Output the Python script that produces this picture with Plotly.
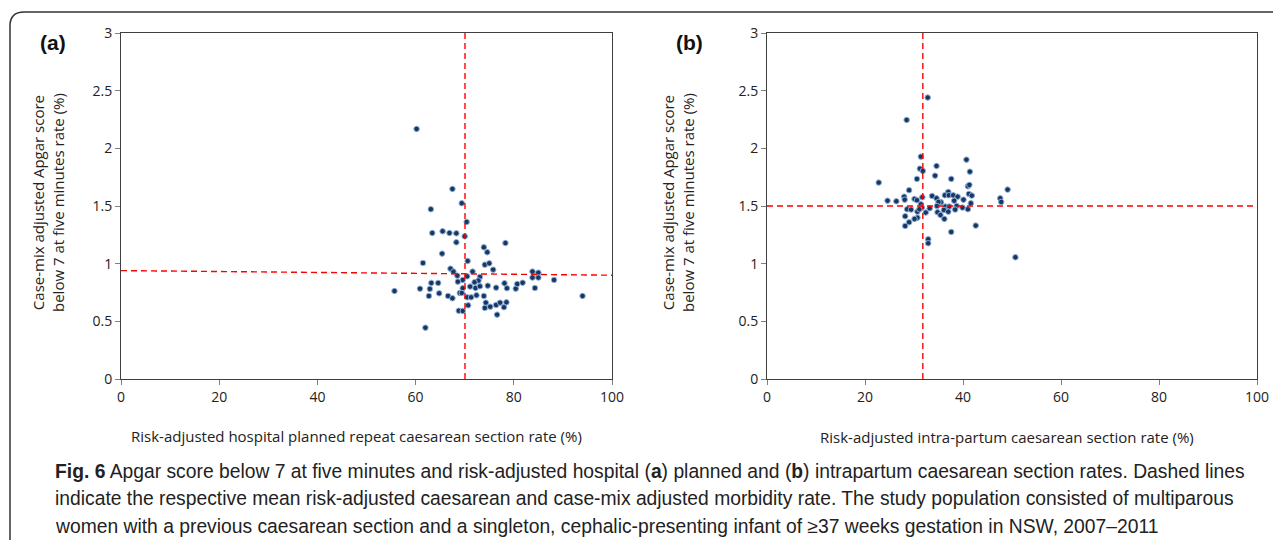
import plotly.graph_objects as go

# page body adds an 8px margin; the figure is sized so the whole page is 1281x540
OFF = 8
W, H = 1281 - OFF, 540 - OFF

# Panel (a): planned repeat caesarean rate vs Apgar<7 rate
a_x = [60.2, 67.5, 69.4, 63.1, 70.4, 63.4, 65.5, 66.9, 68.3, 70.0, 68.3, 78.3, 73.9, 74.6, 65.4,
       70.6, 61.5, 74.1, 75.0, 75.8, 67.1, 67.7, 68.5, 71.6, 70.5, 69.6, 68.6, 63.2, 64.6, 73.1,
       72.8, 72.0, 71.1, 72.2, 73.1, 74.7, 76.4, 78.1, 78.6, 80.4, 80.7, 81.8, 83.8, 85.0, 83.8,
       85.0, 88.2, 84.3, 94.0, 55.7, 60.9, 62.9, 62.7, 64.8, 66.6, 67.5, 69.0, 69.6, 69.4, 70.5,
       71.3, 72.4, 73.9, 74.3, 75.2, 74.1, 76.4, 77.2, 78.5, 78.0, 76.6, 70.7, 68.8, 69.6, 62.0]
a_y = [2.168, 1.648, 1.524, 1.472, 1.362, 1.266, 1.281, 1.266, 1.263, 1.237, 1.185, 1.179, 1.142,
       1.099, 1.087, 1.023, 1.006, 0.991, 1.003, 0.948, 0.957, 0.931, 0.896, 0.931, 0.890, 0.859,
       0.844, 0.833, 0.833, 0.885, 0.853, 0.839, 0.801, 0.789, 0.804, 0.809, 0.792, 0.830, 0.787,
       0.783, 0.824, 0.835, 0.931, 0.922, 0.879, 0.879, 0.859, 0.789, 0.720, 0.763, 0.783, 0.781,
       0.720, 0.743, 0.720, 0.700, 0.746, 0.787, 0.746, 0.708, 0.708, 0.726, 0.720, 0.662, 0.627,
       0.616, 0.642, 0.662, 0.665, 0.622, 0.558, 0.639, 0.592, 0.590, 0.445]
a_mean_x = 70.06
a_mean_line_x = [0, 100]
a_mean_line_y = [0.94, 0.90]

# Panel (b): intra-partum caesarean rate vs Apgar<7 rate
b_x = [32.8, 28.5, 31.4, 31.2, 31.8, 34.6, 40.7, 41.4, 34.3, 30.6, 37.6, 22.8, 41.0, 41.3, 49.1,
       29.0, 41.2, 41.8, 37.0, 36.3, 37.1, 38.0, 38.9, 33.7, 31.7, 28.0, 28.1, 30.1, 30.6, 24.6,
       26.4, 34.6, 35.5, 35.0, 38.2, 40.1, 47.6, 47.8, 41.6, 31.4, 34.7, 33.2, 36.4, 37.2, 38.7,
       39.9, 31.6, 28.6, 29.4, 30.7, 31.1, 36.1, 37.0, 38.4, 41.0, 32.4, 34.8, 35.4, 28.2, 30.7,
       30.1, 36.2, 29.0, 28.2, 42.6, 37.6, 32.9, 32.9, 50.7]
b_y = [2.440, 2.246, 1.928, 1.824, 1.804, 1.847, 1.902, 1.798, 1.763, 1.735, 1.735, 1.703, 1.671,
       1.683, 1.642, 1.637, 1.605, 1.590, 1.622, 1.593, 1.593, 1.593, 1.581, 1.587, 1.576, 1.581,
       1.555, 1.561, 1.550, 1.546, 1.541, 1.567, 1.533, 1.535, 1.546, 1.555, 1.567, 1.535, 1.524,
       1.515, 1.500, 1.480, 1.495, 1.495, 1.500, 1.486, 1.486, 1.472, 1.469, 1.451, 1.472, 1.466,
       1.451, 1.469, 1.472, 1.443, 1.446, 1.422, 1.411, 1.399, 1.388, 1.388, 1.359, 1.327, 1.330,
       1.275, 1.212, 1.177, 1.055]
b_mean_x = 31.8
b_mean_y = 1.50

x_ticks = [0, 20, 40, 60, 80, 100]
y_ticks = [0, 0.5, 1, 1.5, 2, 2.5, 3]
y_tick_labels = ["0", "0.5", "1", "1.5", "2", "2.5", "3"]

y_title = "Case-mix adjusted Apgar score<br>below 7 at five minutes rate (%)"
a_x_title = "Risk-adjusted hospital planned repeat caesarean section rate (%)"
b_x_title = "Risk-adjusted intra-partum caesarean section rate (%)"
caption_lines = [
    "<b>Fig. 6</b> Apgar score below 7 at five minutes and risk-adjusted hospital (<b>a</b>) planned and (<b>b</b>) intrapartum caesarean section rates. Dashed lines",
    "indicate the respective mean risk-adjusted caesarean and case-mix adjusted morbidity rate. The study population consisted of multiparous",
    "women with a previous caesarean section and a singleton, cephalic-presenting infant of ≥37 weeks gestation in NSW, 2007–2011",
]

FONT = "Open Sans"
CAP_FONT = "Liberation Sans Narrow, Liberation Sans, sans-serif"

def px(x):
    return (x - OFF) / W

def py(y):
    return 1 - (y - OFF) / H

marker = dict(size=5.5, color="#17375e", line=dict(color="#8fb0dc", width=1))
red = dict(color="#ff0000", width=1.4, dash="6px,4px")

fig = go.Figure()
fig.add_trace(go.Scatter(x=a_x, y=a_y, mode="markers", marker=marker, xaxis="x", yaxis="y"))
fig.add_trace(go.Scatter(x=[a_mean_x, a_mean_x], y=[0, 3], mode="lines", line=red, xaxis="x", yaxis="y"))
fig.add_trace(go.Scatter(x=a_mean_line_x, y=a_mean_line_y, mode="lines", line=red, xaxis="x", yaxis="y"))
fig.add_trace(go.Scatter(x=b_x, y=b_y, mode="markers", marker=marker, xaxis="x2", yaxis="y2"))
fig.add_trace(go.Scatter(x=[b_mean_x, b_mean_x], y=[0, 3], mode="lines", line=red, xaxis="x2", yaxis="y2"))
fig.add_trace(go.Scatter(x=[0, 100], y=[b_mean_y, b_mean_y], mode="lines", line=red, xaxis="x2", yaxis="y2"))

axis_common = dict(showgrid=False, zeroline=False, showline=True, linecolor="#404040", linewidth=1,
                   mirror=True, ticks="outside", ticklen=5, tickcolor="#808080", automargin=False,
                   tickfont=dict(family=FONT, size=14, color="#222"))

fig.update_layout(
    template="none",
    width=W, height=H, margin=dict(l=0, r=0, t=0, b=0, pad=0, autoexpand=False),
    paper_bgcolor="white", plot_bgcolor="white", showlegend=False,
    xaxis=dict(domain=[px(121), px(612)], range=[0, 100], tickvals=x_ticks, anchor="y", **axis_common),
    yaxis=dict(domain=[py(379), py(33)], range=[0, 3], tickvals=y_ticks, ticktext=y_tick_labels, anchor="x", **axis_common),
    xaxis2=dict(domain=[px(767), px(1257)], range=[0, 100], tickvals=x_ticks, anchor="y2", **axis_common),
    yaxis2=dict(domain=[py(379), py(33)], range=[0, 3], tickvals=y_ticks, ticktext=y_tick_labels, anchor="x2", **axis_common),
)

ann = []

def add(text, x, y, size, family=FONT, xanchor="center", yanchor="middle", angle=0, color="#222"):
    ann.append(dict(text=text, x=px(x), y=py(y), xref="paper", yref="paper", showarrow=False,
                    xanchor=xanchor, yanchor=yanchor, textangle=angle,
                    font=dict(family=family, size=size, color=color)))

# panel labels
add("<b>(a)</b>", 53, 42, 21, family="Liberation Sans", color="#111")
add("<b>(b)</b>", 689, 42, 21, family="Liberation Sans", color="#111")
# y titles
for xc in (48, 678):
    add(y_title, xc, 203, 15, angle=-90)
# x titles
add(a_x_title, 356, 436, 15)
add(b_x_title, 1007, 437, 15)
# caption
for i, line in enumerate(caption_lines):
    add(line, 53, 471 + 27.5 * i, 19.3, family=CAP_FONT, xanchor="left", color="#222")
fig.update_layout(annotations=ann)

# rounded outer frame
r = 14
path = (f"M {px(10)} {py(540)} L {px(10)} {py(12 + r)} Q {px(10)} {py(12)} {px(10 + r)} {py(12)} "
        f"L {px(1290)} {py(12)}")
fig.add_shape(type="path", path=path, xref="paper", yref="paper", line=dict(color="#333", width=1.5))

fig.write_html("out.html")
